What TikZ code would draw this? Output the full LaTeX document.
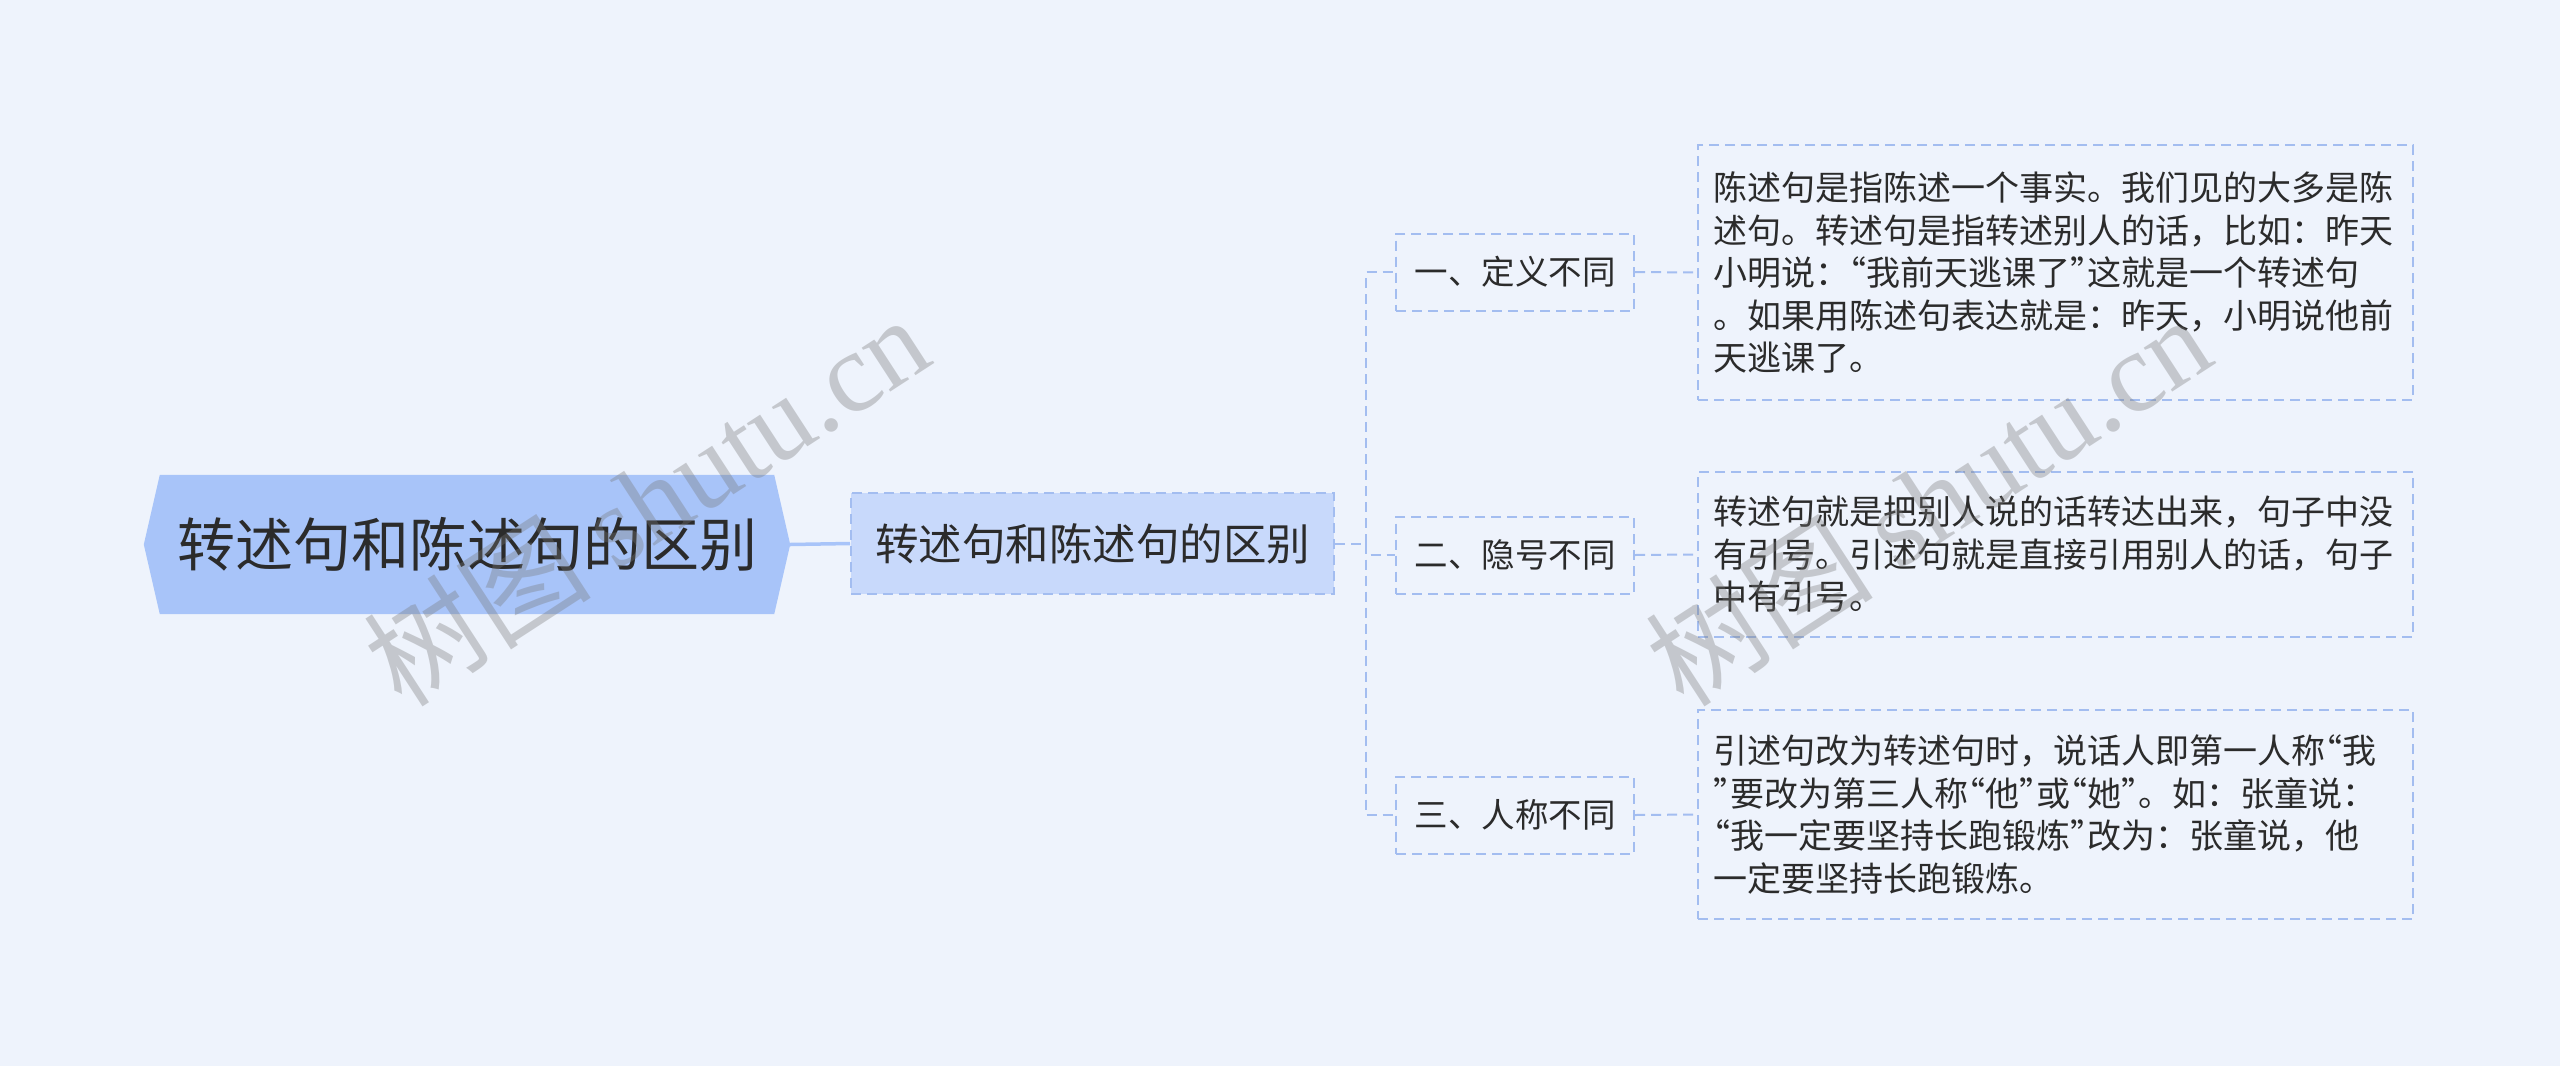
\documentclass[tikz,border=0pt]{standalone}
\usepackage{fontspec}
\setmainfont{Noto Sans CJK SC}
\newfontfamily\wmserif{Liberation Serif}
\newfontfamily\halfq[RawFeature=+halt]{Noto Sans CJK SC}
\newcommand\myoq{{\halfq “}}
\newcommand\mycq{{\halfq ”}}
\usetikzlibrary{calc,backgrounds}
\definecolor{bgc}{HTML}{EEF3FC}
\definecolor{rootfill}{HTML}{A8C4F9}
\definecolor{mainfill}{HTML}{C8D9FB}
\definecolor{lnc}{HTML}{A3BDF0}
\definecolor{txt}{HTML}{2B2B2B}
\definecolor{wmc}{HTML}{777777}
\begin{document}
\begin{tikzpicture}[x=1pt,y=-1pt,
  dsh/.style={dash pattern=on 10pt off 6pt,line width=2pt},
  rootn/.style={minimum width=646pt,minimum height=139pt,inner sep=0pt,text=txt,font=\fontsize{58}{62}\selectfont},
  mainn/.style={draw=lnc,dsh,fill=mainfill,minimum width=483pt,minimum height=101pt,inner sep=0pt,text=txt,font=\fontsize{43.5}{48}\selectfont},
  childn/.style={draw=lnc,dsh,minimum width=238pt,minimum height=77pt,inner sep=0pt,text=txt,font=\fontsize{33.5}{40}\selectfont},
  leafn/.style={draw=lnc,dsh,minimum width=715pt,text width=684pt,align=left,inner sep=0pt,text=txt,font=\fontsize{34}{42.5}\selectfont},
  conn/.style={draw=lnc,dsh},
  rootconn/.style={draw=rootfill,line width=3.5pt},
  wm/.style={text=wmc,opacity=0.35,font=\fontsize{114}{114}\selectfont,inner sep=0pt}
]
\useasboundingbox (0,0) rectangle (2560,1066);

\node[rootn] (root) at (467,544.5) {转述句和陈述句的区别};
\begin{scope}[on background layer]
\fill[bgc] (0,0) rectangle (2560,1066);
\fill[rootfill] ($(root.north west)+(16,0)$) -- ($(root.north east)+(-16,0)$) -- (root.east)
  -- ($(root.south east)+(-16,0)$) -- ($(root.south west)+(16,0)$) -- (root.west) -- cycle;
\end{scope}

\node[mainn] (main) at (1092.5,543.5) {转述句和陈述句的区别};

\node[childn] (c1) at (1515,272) {一、定义不同};
\node[childn] (c2) at (1515,555) {二、隐号不同};
\node[childn] (c3) at (1515,815) {三、人称不同};

\node[leafn,minimum height=255pt] (l1) at (2055.5,272.5) {陈述句是指陈述一个事实。我们见的大多是陈\\述句。转述句是指转述别人的话，比如：昨天\\小明说：\myoq 我前天逃课了\mycq 这就是一个转述句\\。如果用陈述句表达就是：昨天，小明说他前\\天逃课了。};
\node[leafn,minimum height=165pt] (l2) at (2055.5,554.5) {转述句就是把别人说的话转达出来，句子中没\\有引号。引述句就是直接引用别人的话，句子\\中有引号。};
\node[leafn,minimum height=209pt] (l3) at (2055.5,814.5) {引述句改为转述句时，说话人即第一人称\myoq 我\\\mycq 要改为第三人称\myoq 他\mycq 或\myoq 她\mycq 。如：张童说：\\\myoq 我一定要坚持长跑锻炼\mycq 改为：张童说，他\\一定要坚持长跑锻炼。};

\draw[rootconn] (root.east) -- (main.west);
\coordinate (split) at ($(main.east)+(31,0)$);
\draw[conn] (main.east) -- (split);
\draw[conn] (split) |- (c1.west);
\draw[conn] (split) |- (c2.west);
\draw[conn] (split) |- (c3.west);
\draw[conn] (c1.east) -- (l1.west);
\draw[conn] (c2.east) -- (l2.west);
\draw[conn] (c3.east) -- (l3.west);

\node[wm,rotate=33] (wm1) at (646,500) {树图 {\wmserif shutu.cn}};
\node[wm,rotate=33] (wm2) at (1928,500) {树图 {\wmserif shutu.cn}};
\end{tikzpicture}
\end{document}
